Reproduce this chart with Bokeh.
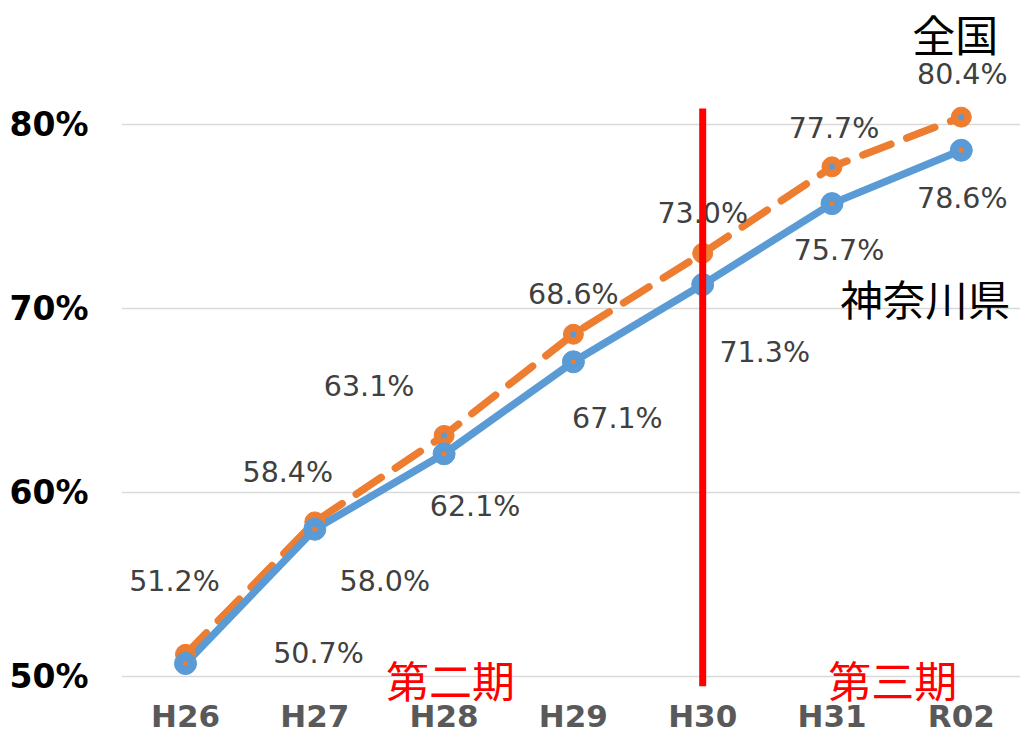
from bokeh.plotting import figure
from bokeh.models import Range1d, FixedTicker, ColumnDataSource
from bokeh.core.properties import value
from bokeh.embed import file_html
from bokeh.resources import INLINE

# ---- data ----
years = ["H26", "H27", "H28", "H29", "H30", "H31", "R02"]
kanagawa = [50.7, 58.0, 62.1, 67.1, 71.3, 75.7, 78.6]
national = [51.2, 58.4, 63.1, 68.6, 73.0, 77.7, 80.4]
y_ticks = [50, 60, 70, 80]
series_names = ["神奈川県", "全国"]
periods = ["第二期", "第三期"]
boundary_year = "H30"

# ---- label placement (screen px, +down) ----
nat_dx = [-11, -27, -75, 0, 0, 2, 1]
nat_dy = [-73, -49, -49, -40, -40, -38, -43]
kan_dx = [133, 70, 31, 44, 62, 7, 1]
kan_dy = [-10, 52, 53, 57, 68, 47, 48]

xi = list(range(len(years)))
BLUE = "#5B9BD5"
ORANGE = "#ED7D31"

p = figure(width=1020, height=736, output_backend="svg", toolbar_location=None,
           x_range=Range1d(-0.495, 6.458), y_range=Range1d(48.42, 86.74),
           min_border_left=121, min_border_right=0, min_border_top=0, min_border_bottom=0)
p.outline_line_color = None
p.background_fill_color = "white"
p.border_fill_color = "white"

# axes
p.xaxis.ticker = FixedTicker(ticks=xi)
p.xaxis.major_label_overrides = {i: y for i, y in enumerate(years)}
p.xaxis.major_label_text_font = "DejaVu Sans"
p.xaxis.major_label_text_font_style = "bold"
p.xaxis.major_label_text_font_size = "31px"
p.xaxis.major_label_text_color = "#595959"
p.xaxis.major_label_standoff = -8
p.xaxis.axis_line_color = None
p.xaxis.major_tick_line_color = None
p.xaxis.minor_tick_line_color = None
p.xaxis.major_tick_out = 0
p.xaxis.major_tick_in = 0

p.yaxis.ticker = FixedTicker(ticks=y_ticks)
p.yaxis.major_label_overrides = {t: f"{t}%" for t in y_ticks}
p.yaxis.major_label_text_font = "DejaVu Sans"
p.yaxis.major_label_text_font_style = "bold"
p.yaxis.major_label_text_font_size = "33px"
p.yaxis.major_label_text_color = "#000000"
p.yaxis.major_label_standoff = 33
p.yaxis.axis_line_color = None
p.yaxis.major_tick_line_color = None
p.yaxis.minor_tick_line_color = None
p.yaxis.major_tick_out = 0
p.yaxis.major_tick_in = 0

p.xgrid.grid_line_color = None
p.ygrid.ticker = FixedTicker(ticks=y_ticks)
p.ygrid.grid_line_color = "#D9D9D9"
p.ygrid.grid_line_width = 1.5

src = ColumnDataSource(dict(x=xi, kan=kanagawa, nat=national,
                            kan_lbl=[f"{v:.1f}%" for v in kanagawa],
                            nat_lbl=[f"{v:.1f}%" for v in national],
                            kdx=kan_dx, kdy=kan_dy, ndx=nat_dx, ndy=nat_dy))

# lines
p.line("x", "nat", source=src, line_color=ORANGE, line_width=7.5, line_dash="30 17", line_cap="round")
p.line("x", "kan", source=src, line_color=BLUE, line_width=7.5, line_cap="round")
# markers
p.scatter("x", "nat", source=src, size=20, fill_color=ORANGE, line_color=ORANGE)
p.scatter("x", "nat", source=src, size=6, fill_color=BLUE, line_color=None)
p.scatter("x", "kan", source=src, size=22, fill_color=BLUE, line_color=BLUE)
p.scatter("x", "kan", source=src, size=5, fill_color=ORANGE, line_color=None)

# data labels
p.text("x", "nat", text="nat_lbl", source=src, x_offset="ndx", y_offset="ndy",
       text_align="center", text_baseline="middle", text_font=value("DejaVu Sans"),
       text_font_size="28.5px", text_color="#404040")
p.text("x", "kan", text="kan_lbl", source=src, x_offset="kdx", y_offset="kdy",
       text_align="center", text_baseline="middle", text_font=value("DejaVu Sans"),
       text_font_size="28.5px", text_color="#404040")

# series name labels near last points
last = len(years) - 1
p.text(x=[last], y=[kanagawa[last]], text=[series_names[0]], x_offset=-36, y_offset=147,
       text_align="center", text_baseline="middle", text_font=value("Noto Sans CJK JP"),
       text_font_size="42.5px", text_color="#000000")
p.text(x=[last], y=[national[last]], text=[series_names[1]], x_offset=-6, y_offset=-84,
       text_align="center", text_baseline="middle", text_font=value("Noto Sans CJK JP"),
       text_font_size="43px", text_color="#000000")

# period labels
p.text(x=[2.05, 5.47], y=[y_ticks[0], y_ticks[0]], text=periods, y_offset=3,
       text_align="center", text_baseline="middle", text_font=value("Noto Sans CJK JP"),
       text_font_size="43px", text_color="#FF0000")

# boundary line
bx = years.index(boundary_year)
p.segment(x0=[bx], y0=[49.46], x1=[bx], y1=[80.87], line_color="#FF0000", line_width=7)

open("out.html", "w").write(file_html(p, INLINE))
